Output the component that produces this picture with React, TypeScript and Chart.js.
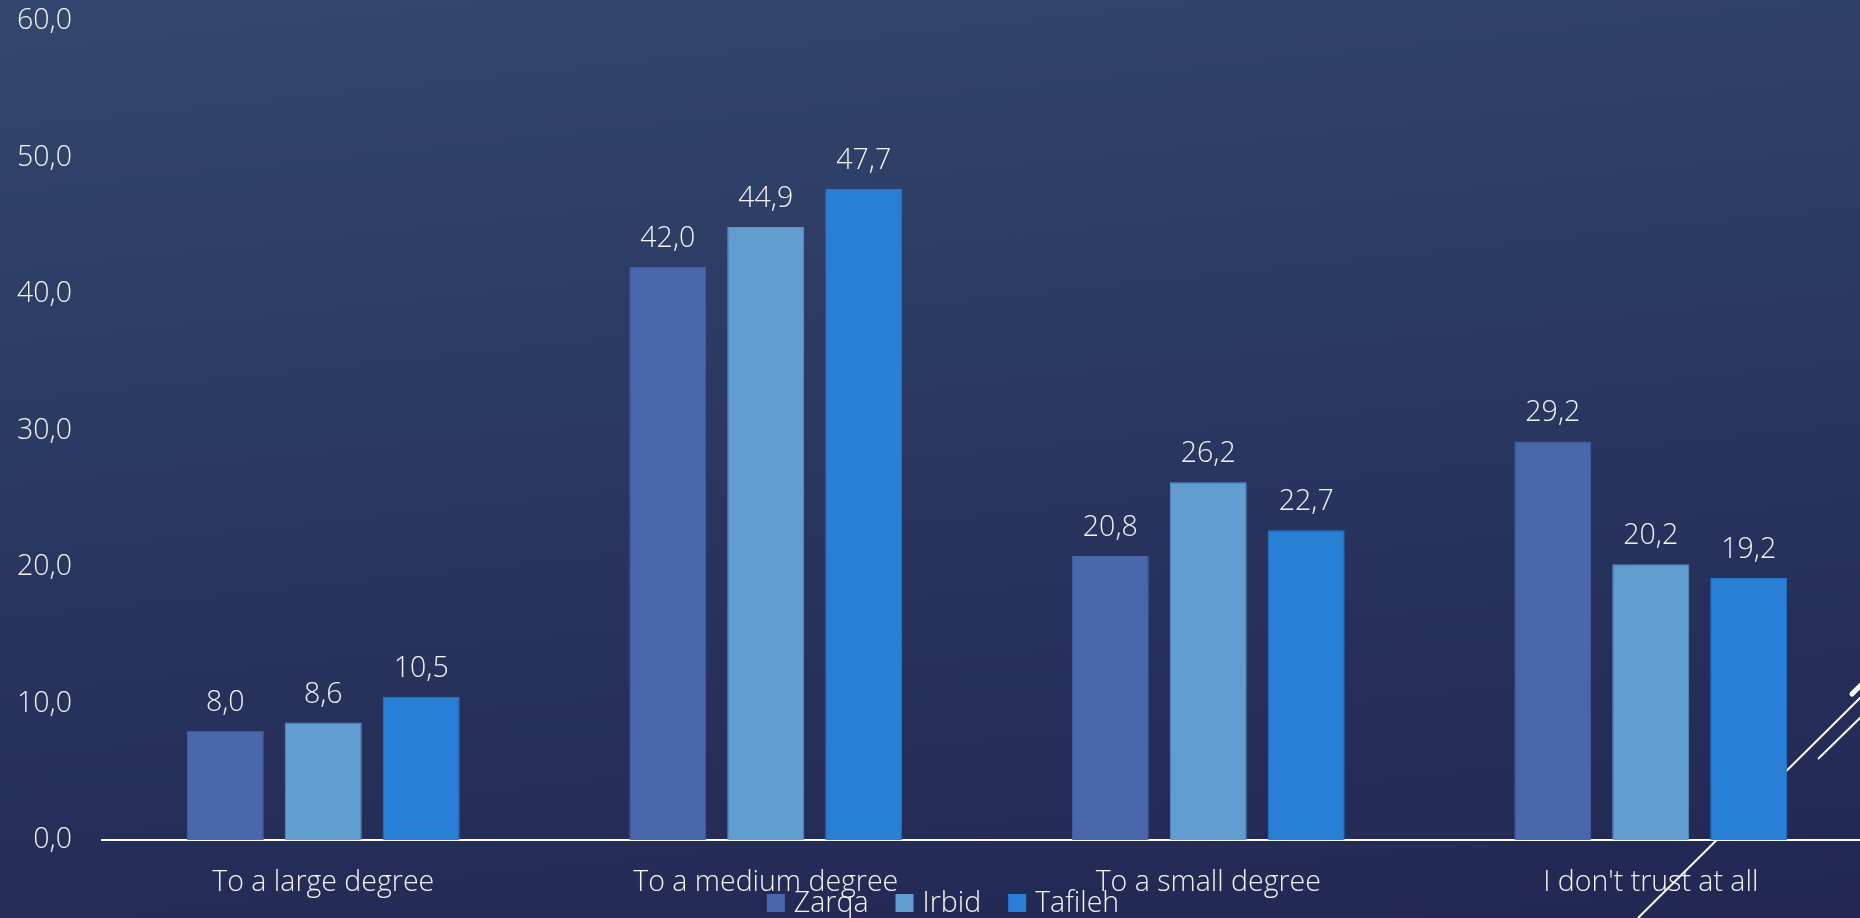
import React, { useEffect, useRef } from "react";
import { Chart, registerables } from "chart.js";

Chart.register(...registerables);

const categories = ["To a large degree", "To a medium degree", "To a small degree", "I don't trust at all"];
const seriesNames = ["Zarqa", "Irbid", "Tafileh"];
const zarqa = [8.0, 42.0, 20.8, 29.2];
const irbid = [8.6, 44.9, 26.2, 20.2];
const tafileh = [10.5, 47.7, 22.7, 19.2];
const seriesColors = ["#4A66AC", "#629DD1", "#297FD5"];
const seriesBorders = ["#4560A3", "#5B96CA", "#2778CB"];
const yMin = 0;
const yMax = 60;
const yStep = 10;

const FONT_FAMILY = "'Open Sans', 'Noto Sans', sans-serif";
const FONT_SIZE = 28.5;
const FONT_WEIGHT = "300";
const TEXT_COLOR = "#F2F2F2";

const fmt = (v: number) => v.toFixed(1).replace(".", ",");

const dataLabelPlugin = {
  id: "dataLabels",
  afterDatasetsDraw(chart: any) {
    const ctx = chart.ctx;
    ctx.save();
    ctx.font = `${FONT_WEIGHT} ${FONT_SIZE}px ${FONT_FAMILY}`;
    ctx.fillStyle = TEXT_COLOR;
    ctx.textAlign = "center";
    ctx.textBaseline = "alphabetic";
    chart.data.datasets.forEach((ds: any, i: number) => {
      const meta = chart.getDatasetMeta(i);
      meta.data.forEach((bar: any, j: number) => {
        ctx.fillText(fmt(ds.data[j]), bar.x, bar.y - 20);
      });
    });
    ctx.restore();
  },
};

const decoPlugin = {
  id: "deco",
  beforeDatasetsDraw(chart: any) {
    const ctx = chart.ctx;
    ctx.save();
    ctx.strokeStyle = "#FFFFFF";
    ctx.lineCap = "butt";
    ctx.lineWidth = 2;
    ctx.beginPath();
    ctx.moveTo(1638, 918);
    ctx.lineTo(1862, 696);
    ctx.stroke();
    ctx.beginPath();
    ctx.moveTo(1818, 759);
    ctx.lineTo(1862, 716);
    ctx.stroke();
    ctx.lineWidth = 5;
    ctx.lineCap = "round";
    ctx.beginPath();
    ctx.moveTo(1852, 694);
    ctx.lineTo(1866, 680);
    ctx.stroke();
    ctx.restore();
  },
};

const legendPlugin = {
  id: "customLegend",
  afterDraw(chart: any) {
    const ctx = chart.ctx;
    ctx.save();
    ctx.font = `${FONT_WEIGHT} ${FONT_SIZE}px ${FONT_FAMILY}`;
    const box = 18;
    const gapBoxText = 9;
    const gapItems = 27;
    const widths = seriesNames.map((n) => ctx.measureText(n).width);
    const total = widths.reduce((a, w) => a + box + gapBoxText + w, 0) + gapItems * (seriesNames.length - 1);
    let x = 943 - total / 2;
    const baseline = 912;
    ctx.textBaseline = "alphabetic";
    ctx.textAlign = "left";
    seriesNames.forEach((n, i) => {
      ctx.fillStyle = seriesColors[i];
      ctx.fillRect(x, baseline - box, box, box);
      x += box + gapBoxText;
      ctx.fillStyle = TEXT_COLOR;
      ctx.fillText(n, x, baseline);
      x += widths[i] + gapItems;
    });
    ctx.restore();
  },
};

export default function App() {
  const canvasRef = useRef<HTMLCanvasElement | null>(null);

  useEffect(() => {
    if (!canvasRef.current) return;
    const series = [zarqa, irbid, tafileh];
    const chart = new Chart(canvasRef.current, {
      type: "bar",
      data: {
        labels: categories,
        datasets: series.map((d, i) => ({
          label: seriesNames[i],
          data: d,
          backgroundColor: seriesColors[i],
          borderColor: seriesBorders[i],
          borderWidth: 1,
          categoryPercentage: 0.664,
          barPercentage: 0.786,
        })),
      },
      options: {
        responsive: false,
        animation: false,
        devicePixelRatio: 1,
        layout: { padding: { top: 21, left: 0, right: 0, bottom: 0 } },
        plugins: {
          legend: { display: false },
          tooltip: { enabled: false },
        },
        scales: {
          x: {
            grid: { display: false, drawTicks: false },
            border: { display: true, color: "#FFFFFF", width: 2 },
            ticks: {
              color: TEXT_COLOR,
              font: { family: FONT_FAMILY, size: FONT_SIZE, weight: FONT_WEIGHT as any },
              padding: 26,
              maxRotation: 0,
              autoSkip: false,
            },
            afterFit: (s: any) => {
              s.height = 78;
              s.paddingLeft = 0;
              s.paddingRight = 0;
            },
          },
          y: {
            min: yMin,
            max: yMax,
            grid: { display: false, drawTicks: false },
            border: { display: false },
            ticks: {
              stepSize: yStep,
              color: TEXT_COLOR,
              font: { family: FONT_FAMILY, size: FONT_SIZE, weight: FONT_WEIGHT as any },
              padding: 30,
              callback: (v: any) => fmt(Number(v)),
            },
            afterFit: (s: any) => {
              s.width = 102;
              s.paddingTop = 0;
              s.paddingBottom = 0;
            },
          },
        },
      },
      plugins: [decoPlugin, dataLabelPlugin, legendPlugin],
    });
    return () => chart.destroy();
  }, []);

  return (
    <div
      style={{
        position: "fixed",
        left: 0,
        top: 0,
        width: 1860,
        height: 918,
        overflow: "hidden",
        background: "linear-gradient(174deg, #32476E 0%, #2A3862 45%, #212752 100%)",
      }}
    >
      <canvas ref={canvasRef} width={1872} height={918} style={{ display: "block", width: 1872, height: 918 }} />
    </div>
  );
}
